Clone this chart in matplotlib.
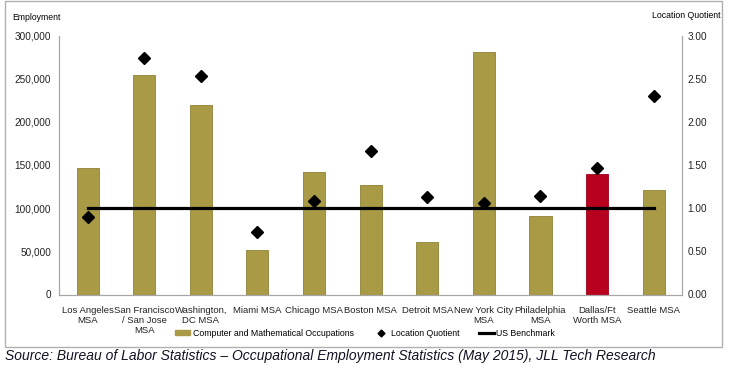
import matplotlib
matplotlib.use('Agg')
import matplotlib.pyplot as plt
from matplotlib.patches import Rectangle
from matplotlib.lines import Line2D
from matplotlib.ticker import FuncFormatter

plt.rcParams['font.family'] = ['Liberation Sans', 'DejaVu Sans']

# data
cities = ['Los Angeles\nMSA', 'San Francisco\n/ San Jose\nMSA', 'Washington,\nDC MSA',
          'Miami MSA', 'Chicago MSA', 'Boston MSA', 'Detroit MSA',
          'New York City\nMSA', 'Philadelphia\nMSA', 'Dallas/Ft\nWorth MSA', 'Seattle MSA']
employment = [147000, 254000, 220000, 51000, 142000, 127000, 61000, 281000, 91000, 140000, 121000]
location_quotient = [0.90, 2.74, 2.53, 0.72, 1.08, 1.66, 1.13, 1.06, 1.14, 1.46, 2.30]
us_benchmark = [1.0] * len(cities)
highlight = 'Dallas/Ft\nWorth MSA'

olive = '#A99A45'
red = '#B8001F'
grey = '#A6A6A6'

fig = plt.figure(figsize=(7.38, 3.74), dpi=100)
ax = fig.add_axes([59.3/738, 79.5/374, (682-59.3)/738, 259/374])
ax2 = ax.twinx()

x = list(range(len(cities)))
colors = [red if c == highlight else olive for c in cities]
edges = ['#9A0018' if c == highlight else '#8E8236' for c in cities]
ax.bar(x, employment, width=0.39, color=colors, edgecolor=edges, linewidth=0.6, zorder=2)

ax2.plot(x, us_benchmark, color='black', linewidth=2.3, zorder=3)
ax2.plot(x, location_quotient, linestyle='none', marker='D', markersize=6.3,
         color='black', zorder=4)

ax.set_xlim(-0.5, len(cities) - 0.5)
ax.set_ylim(0, 300000)
ax2.set_ylim(0, 3.0)
ax.set_yticks(range(0, 300001, 50000))
ax2.set_yticks([i * 0.5 for i in range(7)])
ax.yaxis.set_major_formatter(FuncFormatter(lambda v, p: f'{int(v):,}'))
ax2.yaxis.set_major_formatter(FuncFormatter(lambda v, p: f'{v:.2f}'))
ax.set_xticks(x)
ax.set_xticklabels(cities, fontsize=6.8, linespacing=1.2)

for a in (ax, ax2):
    a.tick_params(axis='y', length=0, labelsize=7.2, colors='#222222')
    a.tick_params(axis='x', length=0, colors='#222222')
    a.spines['top'].set_visible(False)
    for s in ('left', 'right', 'bottom'):
        a.spines[s].set_color(grey)
        a.spines[s].set_linewidth(0.8)
ax.tick_params(axis='y', pad=6)
ax.tick_params(axis='x', pad=8)
ax2.tick_params(axis='y', pad=4)

fig.text(12/738, 1 - 18/374, 'Employment', fontsize=6.2, va='center', ha='left')
fig.text(720/738, 1 - 15/374, 'Location Quotient', fontsize=6.3, va='center', ha='right')

handles = [Rectangle((0, 0), 1, 1, color=olive),
           Line2D([], [], linestyle='none', marker='D', markersize=3.5, color='black'),
           Line2D([], [], color='black', linewidth=2.3)]
labels = ['Computer and Mathematical Occupations', 'Location Quotient', 'US Benchmark']
fig.legend(handles, labels, loc='center', bbox_to_anchor=(365/738, 1 - 333/374), ncol=3,
           frameon=False, fontsize=6.3, handlelength=1.8, handleheight=0.6,
           handletextpad=0.25, columnspacing=2.2)

fig.patches.append(Rectangle((5/738, 1 - 347.3/374), 717.3/738, 346/374,
                             transform=fig.transFigure, fill=False,
                             edgecolor='#B0B0B0', linewidth=1))

fig.text(5/738, 1 - 356/374,
         'Source: Bureau of Labor Statistics \u2013 Occupational Employment Statistics (May 2015), JLL Tech Research',
         fontsize=10, style='italic', va='center', ha='left', color='#111122')

fig.savefig('out.png', dpi=100)
